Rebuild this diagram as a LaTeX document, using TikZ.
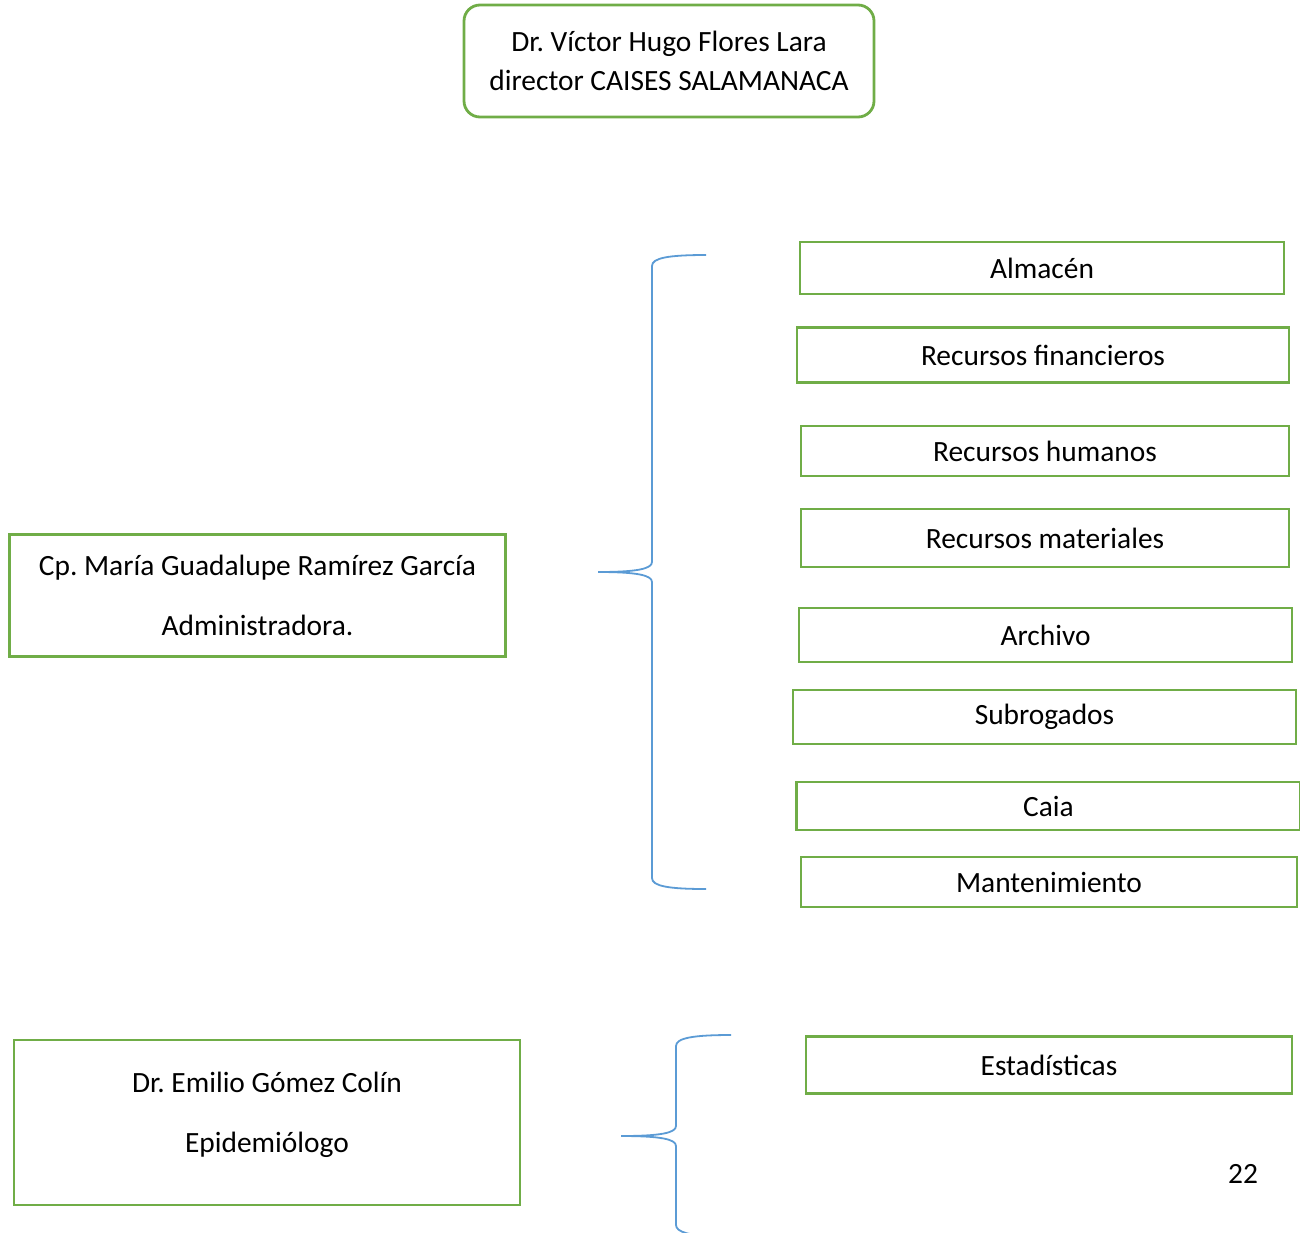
\documentclass[tikz,border=0pt]{standalone}
\usepackage{fontspec}
\setmainfont{Carlito}
\usetikzlibrary{positioning}
\definecolor{boxgreen}{RGB}{112,173,71}
\definecolor{braceblue}{RGB}{91,155,213}
\tikzset{
  box/.style={
    draw=boxgreen,
    line width=1.4pt,
    inner sep=2pt,
    align=center,
    font=\fontsize{14.7}{19.5}\selectfont
  },
  head/.style={box,rounded corners=8pt},
  person/.style={box,font=\fontsize{14.7}{30}\selectfont},
  unit/.style={box},
  bracket/.style={draw=braceblue,line width=0.9pt},
  note/.style={font=\fontsize{14.7}{16}\selectfont}
}
\begin{document}
\frenchspacing
\begin{tikzpicture}[x=0.5pt,y=-0.5pt]
  \useasboundingbox (0,0) rectangle (1300,1232);

  % Director.
  \node[head,minimum width=205pt,minimum height=56pt] (dir) at (669,61)
    {Dr. Víctor Hugo Flores Lara\\director CAISES SALAMANACA};

  % Administration branch.
  \node[person,minimum width=248pt,minimum height=61pt] (admin) at (257.5,595.5)
    {Cp. María Guadalupe Ramírez García\\Administradora.};

  \node[unit,minimum width=242pt,minimum height=26pt] (alm) at (1042,268) {Almacén};
  \node[unit,minimum width=246pt,minimum height=27.5pt] (fin) at (1043,355) {Recursos financieros};
  \node[unit,minimum width=244pt,minimum height=25pt] (hum) at (1045,451) {Recursos humanos};
  \node[unit,minimum width=244pt,minimum height=29pt] (mat) at (1045,538) {Recursos materiales};
  \node[unit,minimum width=246.5pt,minimum height=27pt] (arc) at (1045.5,635) {Archivo};
  \node[unit,minimum width=251.5pt,minimum height=27pt] (sub) at (1044.5,717) {Subrogados};
  \node[unit,minimum width=252pt,minimum height=24pt] (caia) at (1048.5,806) {Caia};
  \node[unit,minimum width=248pt,minimum height=25pt] (mant) at (1049,882) {Mantenimiento};

  \coordinate (adtop) at (706,255);
  \coordinate (adtip) at (598,572);
  \coordinate (adbot) at (706,889);
  \draw[bracket] (adtop) .. controls (668,255) and (652,258) .. (652,266)
    -- (652,562) .. controls (652,569) and (636,572) .. (adtip)
    .. controls (636,572) and (652,575) .. (652,582)
    -- (652,878) .. controls (652,886) and (668,889) .. (adbot);

  % Epidemiology branch.
  \node[person,minimum width=253pt,minimum height=82.5pt,text depth=10pt] (epi) at (267,1122.5)
    {Dr. Emilio Gómez Colín\\Epidemiólogo};

  \node[unit,minimum width=243pt,minimum height=28.5pt] (est) at (1049,1065) {Estadísticas};

  \coordinate (eptop) at (731,1035);
  \coordinate (eptip) at (621,1136);
  \coordinate (epbot) at (716,1236);
  \draw[bracket] (eptop) .. controls (693,1035) and (676,1038) .. (676,1046)
    -- (676,1126) .. controls (676,1133) and (660,1136) .. (eptip)
    .. controls (660,1136) and (676,1139) .. (676,1146)
    -- (676,1225) .. controls (676,1232) and (690,1236) .. (epbot);

  % Page number.
  \node[note] (page) at (1243,1174) {22};
\end{tikzpicture}
\end{document}
